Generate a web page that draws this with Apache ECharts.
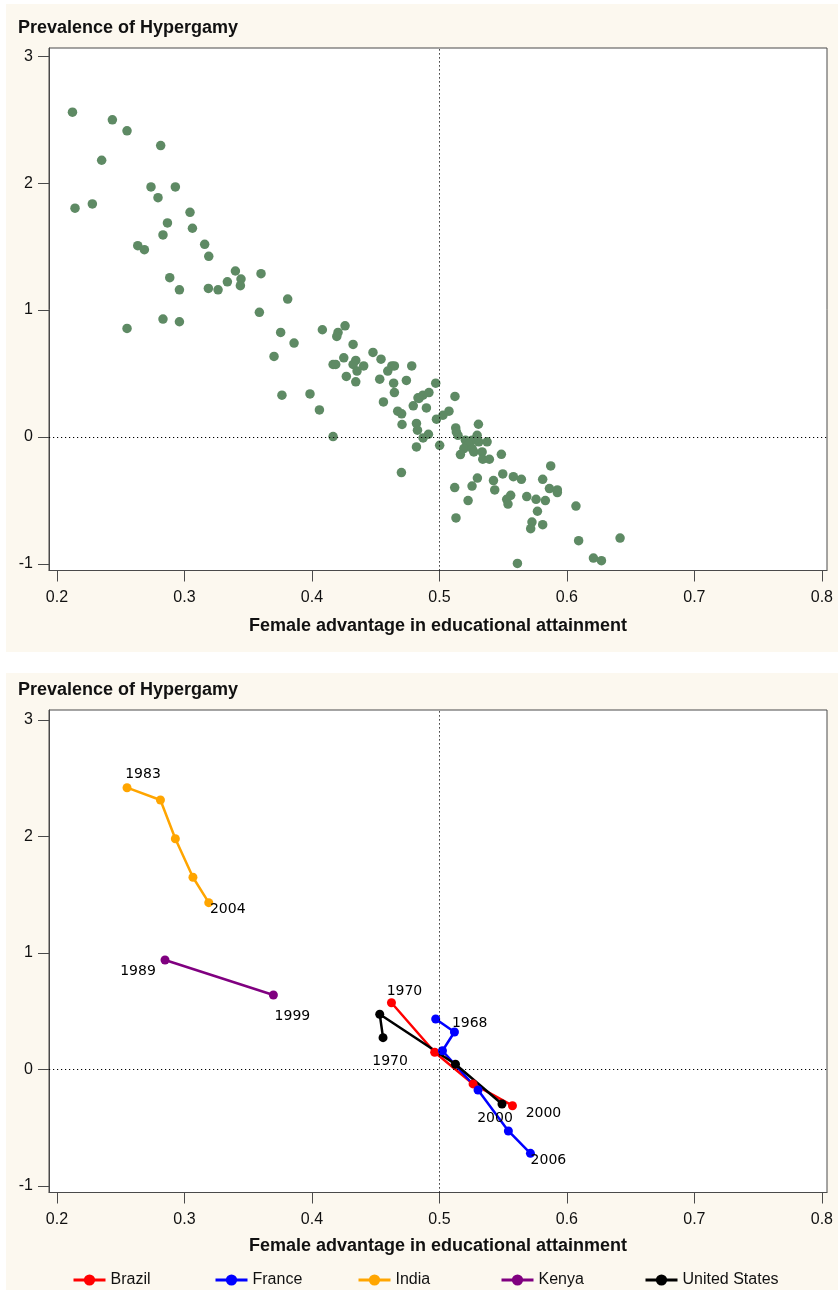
<!DOCTYPE html>
<html>
<head>
<meta charset="utf-8">
<script src="https://cdn.jsdelivr.net/npm/echarts@6/dist/echarts.min.js"></script>
<style>
html,body{margin:0;padding:0;background:#ffffff;}
#chart{width:838px;height:1290px;}
</style>
</head>
<body>
<div id="chart"></div>
<script>
// ---------- data ----------
const xTicks = [0.2, 0.3, 0.4, 0.5, 0.6, 0.7, 0.8];
const yTicks = [-1, 0, 1, 2, 3];

// top panel: all country-years (x = female advantage, y = hypergamy)
const allPoints = [
  [0.2122,2.560],[0.2435,2.500],[0.2550,2.413],[0.2814,2.297],[0.2351,2.181],[0.2738,1.971],[0.2929,1.971],[0.2793,1.886],
  [0.2142,1.803],[0.2278,1.837],[0.3044,1.771],[0.2867,1.687],[0.3063,1.645],[0.2832,1.592],[0.3159,1.518],[0.2634,1.508],
  [0.2686,1.476],[0.3191,1.424],[0.3400,1.308],[0.2885,1.255],[0.3444,1.245],[0.3439,1.192],[0.3601,1.287],[0.3337,1.223],
  [0.3188,1.171],[0.3264,1.160],[0.2961,1.160],[0.3810,1.087],[0.3588,0.982],[0.2832,0.929],[0.2961,0.908],[0.2550,0.855],
  [0.3755,0.824],[0.4082,0.845],[0.4260,0.876],[0.4205,0.824],[0.4195,0.792],[0.3860,0.740],[0.4323,0.729],[0.3703,0.635],
  [0.4479,0.666],[0.4542,0.613],[0.4250,0.624],[0.4166,0.571],[0.4187,0.571],[0.4344,0.603],[0.4323,0.571],[0.4406,0.560],
  [0.4354,0.519],[0.4270,0.477],[0.4344,0.434],[0.4627,0.560],[0.4647,0.560],[0.4595,0.519],[0.4783,0.560],[0.4532,0.455],
  [0.4641,0.424],[0.4741,0.445],[0.4647,0.350],[0.3765,0.329],[0.3985,0.339],[0.4561,0.276],[0.4059,0.213],[0.4673,0.203],
  [0.4704,0.182],[0.4707,0.098],[0.4166,0.003],[0.4795,0.245],[0.4832,0.308],[0.4820,0.106],[0.4828,0.053],[0.4820,-0.079],
  [0.4971,0.424],[0.4871,0.329],[0.4918,0.350],[0.4840,0.303],[0.4898,0.229],[0.5122,0.319],[0.5075,0.203],[0.5028,0.171],
  [0.4977,0.140],[0.5306,0.100],[0.5128,0.071],[0.5133,0.039],[0.5146,0.013],[0.4914,0.021],[0.4872,-0.008],
  [0.5296,0.013],[0.5257,-0.026],[0.5204,-0.026],[0.5231,-0.058],[0.5192,-0.092],[0.5257,-0.092],[0.5309,-0.039],[0.5374,-0.039],
  [0.5270,-0.118],[0.5335,-0.118],[0.5002,-0.066],[0.5165,-0.139],[0.5340,-0.176],[0.5392,-0.176],[0.5486,-0.137],[0.5873,-0.229],
  [0.4702,-0.281],[0.5298,-0.324],[0.5256,-0.387],[0.5120,-0.399],[0.5497,-0.292],[0.5424,-0.344],[0.5434,-0.418],[0.5580,-0.313],
  [0.5643,-0.334],[0.5810,-0.334],[0.5863,-0.407],[0.5925,-0.418],[0.5925,-0.439],[0.5559,-0.460],[0.5528,-0.492],[0.5538,-0.529],
  [0.5685,-0.470],[0.5758,-0.492],[0.5831,-0.502],[0.5225,-0.502],[0.6071,-0.545],[0.5769,-0.586],[0.5726,-0.671],[0.5716,-0.723],
  [0.5810,-0.692],[0.5130,-0.639],[0.6092,-0.818],[0.6417,-0.797],[0.6208,-0.955],[0.6271,-0.976],[0.5612,-0.997]
];

// bottom panel: selected countries over time
const countries = ['Brazil', 'France', 'India', 'Kenya', 'United States'];
const brazilX = [0.4624, 0.4963, 0.5264, 0.5573];
const brazilY = [0.573, 0.148, -0.124, -0.311];
const franceX = [0.4971, 0.5118, 0.5024, 0.5303, 0.5541, 0.5714];
const franceY = [0.433, 0.322, 0.161, -0.176, -0.528, -0.720];
const indiaX  = [0.2550, 0.2812, 0.2929, 0.3067, 0.3191];
const indiaY  = [2.419, 2.313, 1.981, 1.650, 1.432];
const kenyaX  = [0.2848, 0.3698];
const kenyaY  = [0.940, 0.639];
const usX     = [0.4558, 0.4532, 0.5126, 0.5491];
const usY     = [0.273, 0.474, 0.045, -0.296];
// year labels: [point index, text]
const brazilYears = [[0, '1970'], [3, '2000']];
const franceYears = [[0, '1968'], [5, '2006']];
const indiaYears  = [[0, '1983'], [4, '2004']];
const kenyaYears  = [[0, '1989'], [1, '1999']];
const usYears     = [[0, '1970'], [3, '2000']];

// ---------- styles ----------
const cream = '#fcf8ef';
const frameColor = '#4a4a4a';
const textColor = '#111111';
const labelOffsets = {
  Brazil: [[13, -11], [31, 8]],
  France: [[34, 4], [18, 7]],
  India: [[16, -13], [19, 7]],
  Kenya: [[-27, 11], [19, 21]],
  'United States': [[7, 24], [-7, 14]]
};
const colors = {Brazil:'#ff0000', France:'#0000ff', India:'#ffa500', Kenya:'#800080', 'United States':'#000000'};
const legendLeft = {Brazil:72, France:214, India:357, Kenya:500, 'United States':644};

function pairs(xs, ys){ return xs.map((x,i)=>[x, ys[i]]); }

function buildSeries(name, xs, ys, years){
  const pts = pairs(xs, ys);
  const data = pts.map(p => ({value: p}));
  years.forEach(([idx, txt], k) => {
    data[idx].label = {show:true, formatter: txt, offset: labelOffsets[name][k]};
  });
  return {
    name, type:'line', xAxisIndex:1, yAxisIndex:1,
    data, symbol:'circle', symbolSize:9, showSymbol:true,
    lineStyle:{color:colors[name], width:2.5},
    itemStyle:{color:colors[name]},
    label:{show:false, position:'inside', color:'#000', fontFamily:'DejaVu Sans', fontSize:14},
    emphasis:{disabled:true},
    z:3
  };
}

const dotted = {type:[1.2, 2.8], color:'#000', width:1};

function xAxisCfg(gridIndex, gap){
  return {
    type:'value', gridIndex, min:0.1938, max:0.8040,
    axisLine:{show:true, onZero:false, lineStyle:{color:frameColor, width:1}},
    axisTick:{show:true, length:11, customValues:xTicks, lineStyle:{color:frameColor, width:1}},
    axisLabel:{show:true, customValues:xTicks, margin:19, color:textColor, fontSize:16, fontFamily:'Liberation Sans',
      formatter: v => v.toFixed(1)},
    splitLine:{show:false},
    name:'Female advantage in educational attainment', nameLocation:'middle', nameGap:gap,
    nameTextStyle:{fontSize:18, fontWeight:'bold', color:textColor, fontFamily:'Liberation Sans'}
  };
}
function yAxisCfg(gridIndex, min, max){
  return {
    type:'value', gridIndex, min, max,
    axisLine:{show:true, onZero:false, lineStyle:{color:frameColor, width:1}},
    axisTick:{show:true, length:11, customValues:yTicks, lineStyle:{color:frameColor, width:1}},
    axisLabel:{show:true, customValues:yTicks, margin:16, color:textColor, fontSize:16, fontFamily:'Liberation Sans'},
    splitLine:{show:false}
  };
}

const chart = echarts.init(document.getElementById('chart'), null, {renderer:'canvas'});
const option = {
  animation:false,
  backgroundColor:'#ffffff',
  textStyle:{fontFamily:'Liberation Sans'},
  graphic:[
    {type:'rect', z:-100, silent:true, shape:{x:6, y:4, width:832, height:648}, style:{fill:cream}},
    {type:'rect', z:-100, silent:true, shape:{x:6, y:673, width:832, height:617}, style:{fill:cream}},
    {type:'text', left:18, top:19, z:10, style:{text:'Prevalence of Hypergamy', font:'bold 18px "Liberation Sans"', fill:textColor}},
    {type:'text', left:18, top:681, z:10, style:{text:'Prevalence of Hypergamy', font:'bold 18px "Liberation Sans"', fill:textColor}}
  ],
  grid:[
    {left:49, top:48, width:778, height:522.5, show:true, backgroundColor:'#ffffff', borderColor:frameColor, borderWidth:1},
    {left:49, top:710, width:778, height:482.5, show:true, backgroundColor:'#ffffff', borderColor:frameColor, borderWidth:1}
  ],
  xAxis:[xAxisCfg(0, 47), xAxisCfg(1, 45)],
  yAxis:[yAxisCfg(0, -1.053, 3.066), yAxisCfg(1, -1.056, 3.086)],
  legend: countries.map(c => ({
    data:[c], left:legendLeft[c], top:1272, padding:0, itemWidth:32, itemHeight:14,
    lineStyle:{width:3},
    textStyle:{fontSize:16, color:textColor, fontFamily:'Liberation Sans'},
    selectedMode:false
  })),
  series:[
    {
      name:'all', type:'scatter', xAxisIndex:0, yAxisIndex:0, data:allPoints,
      symbolSize:9.5, itemStyle:{color:'#5e8a64', opacity:1}, emphasis:{disabled:true},
      markLine:{silent:true, symbol:'none', label:{show:false}, lineStyle:dotted, emphasis:{disabled:true},
        data:[{xAxis:0.5}, {yAxis:0}]},
      z:3
    },
    {
      name:'ref', type:'scatter', xAxisIndex:1, yAxisIndex:1, data:[],
      markLine:{silent:true, symbol:'none', label:{show:false}, lineStyle:dotted, emphasis:{disabled:true},
        data:[{xAxis:0.5}, {yAxis:0}]},
      z:2
    },
    buildSeries('Brazil', brazilX, brazilY, brazilYears),
    buildSeries('France', franceX, franceY, franceYears),
    buildSeries('India', indiaX, indiaY, indiaYears),
    buildSeries('Kenya', kenyaX, kenyaY, kenyaYears),
    buildSeries('United States', usX, usY, usYears)
  ]
};
chart.setOption(option);
</script>
</body>
</html>
